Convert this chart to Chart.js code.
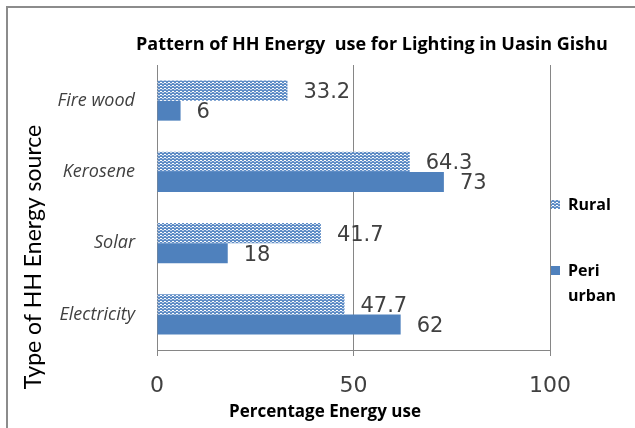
<!DOCTYPE html>
<html>
<head>
<meta charset="utf-8">
<script src="https://cdn.jsdelivr.net/npm/chart.js@4/dist/chart.umd.min.js"></script>
<style>
  html, body { margin: 0; padding: 0; background: #fff; }
</style>
</head>
<body>
<canvas id="mycanvas" width="635" height="428"></canvas>
<script>
// ** HH energy use for lighting - horizontal bars

var sources = ['Fire wood', 'Kerosene', 'Solar', 'Electricity'];
var rural = [33.2, 64.3, 41.7, 47.7];
var periUrban = [6, 73, 18, 62];
var xTicks = [0, 50, 100];

var chartTitle = 'Pattern of HH Energy  use for Lighting in Uasin Gishu';
var xTitle = 'Percentage Energy use';
var yTitle = 'Type of HH Energy source';

var blue = '#4F81BD';
var ctx = document.getElementById('mycanvas').getContext('2d');

// dotted fill used by the Rural series
function makeHatch() {
	var c = document.createElement('canvas');
	c.width = 4; c.height = 3;
	var g = c.getContext('2d');
	g.fillStyle = '#5f8dc6';
	g.fillRect(0, 0, 4, 3);
	g.fillStyle = '#ffffff';
	g.fillRect(0, 1, 2, 1);
	g.fillStyle = '#c9d8ec';
	g.fillRect(2, 2, 2, 1);
	return ctx.createPattern(c, 'repeat');
}
var hatch = makeHatch();

var extras = {
	id: 'extras',
	beforeDraw: function(chart) {
		var c = chart.ctx;
		c.save();
		c.fillStyle = '#fff';
		c.fillRect(0, 0, chart.width, chart.height);
		c.strokeStyle = '#8c8c8c';
		c.lineWidth = 2;
		c.beginPath();
		c.moveTo(7, chart.height);
		c.lineTo(7, 7);
		c.lineTo(chart.width, 7);
		c.stroke();
		c.restore();
	},
	afterDraw: function(chart) {
		var c = chart.ctx;
		c.save();
		c.fillStyle = '#000';
		c.textBaseline = 'middle';

		c.textAlign = 'center';
		c.font = 'bold 18px "Open Sans"';
		c.fillText(chartTitle, 372, 45);
		c.font = 'bold 17px "Open Sans"';
		c.fillText(xTitle, 325, 412);

		c.save();
		c.translate(34, 257);
		c.rotate(-Math.PI / 2);
		c.font = '23px Lato';
		c.fillText(yTitle, 0, 0);
		c.restore();

		// legend
		c.textAlign = 'left';
		c.font = 'bold 16px "Open Sans"';
		c.fillStyle = hatch;
		c.fillRect(551, 200, 9, 9);
		c.fillStyle = blue;
		c.fillRect(551, 266, 9, 9);
		c.fillStyle = '#000';
		c.fillText('Rural', 568, 205);
		c.fillText('Peri', 568, 271);
		c.fillText('urban', 568, 296);

		// value labels
		c.font = '21px "DejaVu Sans"';
		c.fillStyle = '#404040';
		chart.data.datasets.forEach(function(ds, i) {
			chart.getDatasetMeta(i).data.forEach(function(bar, j) {
				c.fillText(String(ds.data[j]), bar.x + 16, bar.y + 2);
			});
		});
		c.restore();
	}
};

new Chart(ctx, {
	type: 'bar',
	data: {
		labels: sources,
		datasets: [{
			label: 'Rural',
			data: rural,
			backgroundColor: hatch,
			categoryPercentage: 0.562,
			barPercentage: 1.0
		}, {
			label: 'Peri urban',
			data: periUrban,
			backgroundColor: blue,
			categoryPercentage: 0.562,
			barPercentage: 1.0
		}]
	},
	options: {
		indexAxis: 'y',
		responsive: false,
		animation: false,
		devicePixelRatio: 1,
		layout: { padding: { top: 65, right: 85, bottom: 0, left: 0 } },
		plugins: {
			legend: { display: false },
			title: { display: false },
			tooltip: { enabled: false }
		},
		scales: {
			x: {
				min: 0,
				max: 100,
				afterBuildTicks: function(scale) {
					scale.ticks = xTicks.map(function(v) { return { value: v }; });
				},
				afterFit: function(scale) { scale.height = 78; },
				grid: { color: '#868686', tickLength: 6, tickColor: '#868686' },
				border: { color: '#868686' },
				ticks: {
					font: { family: 'DejaVu Sans', size: 22 },
					color: '#404040',
					padding: 17,
					maxRotation: 0
				}
			},
			y: {
				afterFit: function(scale) { scale.width = 157; },
				grid: { display: false, drawTicks: false },
				border: { display: true, color: '#868686' },
				ticks: {
					font: { family: 'Open Sans', size: 18, style: 'italic' },
					color: '#404040',
					padding: 22
				}
			}
		}
	},
	plugins: [extras]
});
</script>
</body>
</html>
